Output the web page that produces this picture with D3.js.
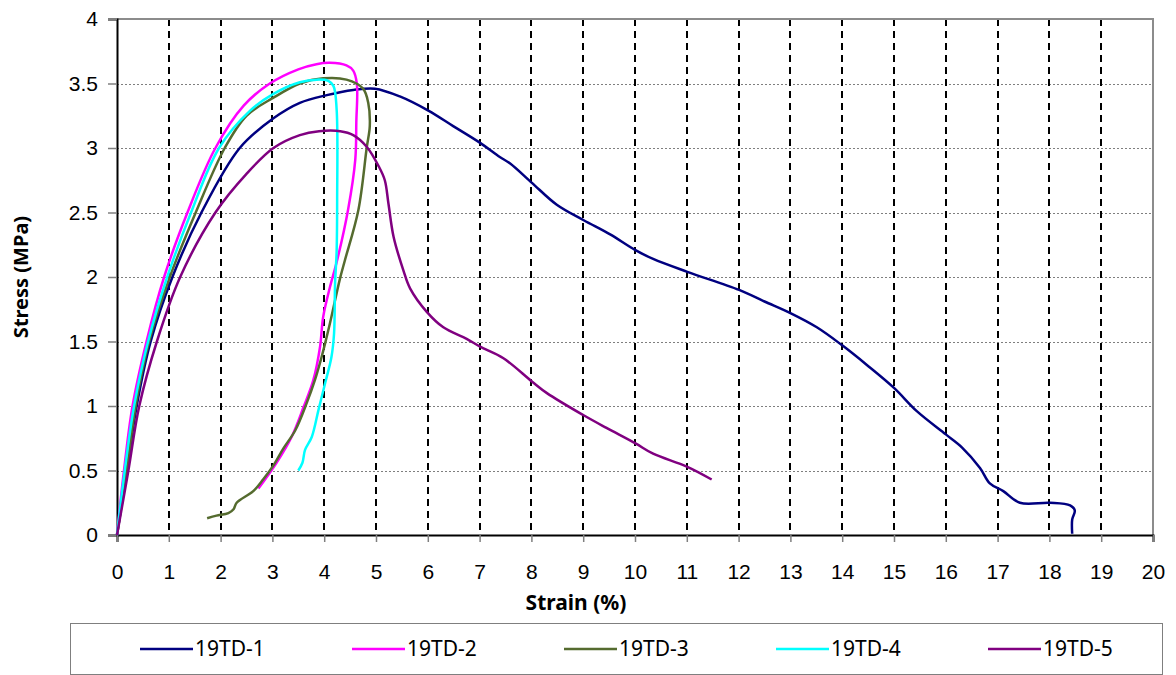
<!DOCTYPE html>
<meta charset="utf-8">
<style>
body { margin: 0; background: #fff; }
svg { font-family: "Noto Sans", "Open Sans", sans-serif; }
.line { fill: none; stroke-width: 2.5px; stroke-linejoin: round; }
</style>
<svg width="1176" height="675"></svg>
<script src="https://cdn.jsdelivr.net/npm/d3@7"></script>
<script>
// series names and colours
var names = ["19TD-1", "19TD-2", "19TD-3", "19TD-4", "19TD-5"];
var colors = ["#000080", "#ff00ff", "#556b2f", "#00ffff", "#800080"];

// [strain %, stress MPa]
var td1 = [[0,0],[0.1,0.27],[0.19,0.5],[0.38,1.0],[0.65,1.5],[1.07,2.0],[1.63,2.5],[2.37,3.0],[3.02,3.23],[3.53,3.35],[4.05,3.41],[4.56,3.45],[4.98,3.46],[5.46,3.40],[6.01,3.29],[6.49,3.17],[7.01,3.04],[7.39,2.93],[7.59,2.88],[8.01,2.73],[8.49,2.56],[9.01,2.44],[9.52,2.33],[10.0,2.21],[10.35,2.14],[11.01,2.04],[12.01,1.90],[12.5,1.81],[13.0,1.72],[13.51,1.61],[14.0,1.47],[14.47,1.32],[15.0,1.14],[15.44,0.96],[16.0,0.78],[16.31,0.68],[16.66,0.52],[16.85,0.40],[17.11,0.34],[17.43,0.25],[18.01,0.25],[18.4,0.23],[18.49,0.19],[18.44,0.12],[18.44,0.01]];
var td2 = [[0,0],[0.135,0.5],[0.30,1.0],[0.57,1.5],[0.91,2.0],[1.36,2.5],[1.90,3.0],[2.45,3.33],[2.95,3.5],[3.5,3.61],[3.85,3.65],[4.11,3.66],[4.43,3.64],[4.56,3.6],[4.63,3.5],[4.62,3.2],[4.6,2.91],[4.46,2.52],[4.25,2.13],[4.11,1.92],[3.98,1.69],[3.92,1.46],[3.79,1.2],[3.6,0.99],[3.37,0.76],[3.08,0.56],[2.73,0.36]];
var td3 = [[0,0],[0.19,0.5],[0.36,1.0],[0.62,1.5],[1.02,2.0],[1.52,2.5],[2.08,3.0],[2.5,3.25],[3.02,3.39],[3.53,3.5],[3.98,3.54],[4.43,3.53],[4.75,3.46],[4.85,3.35],[4.88,3.17],[4.82,3.0],[4.66,2.52],[4.4,2.13],[4.3,1.98],[4.11,1.64],[3.95,1.38],[3.82,1.2],[3.66,1.02],[3.44,0.81],[3.21,0.67],[3.02,0.54],[2.82,0.43],[2.63,0.34],[2.31,0.25],[2.25,0.2],[2.15,0.17],[1.92,0.15],[1.74,0.13]];
var td4 = [[0,0],[0.15,0.5],[0.33,1.0],[0.6,1.5],[0.97,2.0],[1.43,2.5],[1.97,3.0],[2.57,3.29],[3.02,3.42],[3.53,3.51],[3.86,3.53],[4.08,3.52],[4.18,3.48],[4.24,3.3],[4.25,2.6],[4.24,2.2],[4.21,1.95],[4.19,1.56],[4.14,1.38],[4.02,1.18],[3.89,0.97],[3.76,0.76],[3.63,0.66],[3.58,0.56],[3.5,0.5]];
var td5 = [[0,0],[0.22,0.5],[0.43,1.0],[0.77,1.5],[1.22,2.0],[1.9,2.5],[2.5,2.8],[3.02,3.0],[3.53,3.1],[3.9,3.13],[4.31,3.13],[4.56,3.1],[4.82,3.01],[5.05,2.86],[5.17,2.75],[5.24,2.57],[5.34,2.31],[5.53,2.05],[5.66,1.91],[5.98,1.73],[6.3,1.61],[6.75,1.52],[7.01,1.46],[7.46,1.37],[8.01,1.19],[8.3,1.10],[9.0,0.93],[9.45,0.83],[10.01,0.71],[10.35,0.63],[11.0,0.53],[11.48,0.43]];

var xTicks = d3.range(0, 21, 1);
var yTicks = [0, 0.5, 1, 1.5, 2, 2.5, 3, 3.5, 4];

var series = [td1, td2, td3, td4, td5];

var svg = d3.select("svg"),
    pLeft = 117, pRight = 1153, pTop = 19, pBottom = 535;

var x = d3.scaleLinear().domain([0, 20]).range([pLeft, pRight]),
    y = d3.scaleLinear().domain([0, 4]).range([pBottom, pTop]);

// horizontal grid (dotted grey)
svg.append("g")
  .selectAll("line")
  .data(yTicks.slice(1, -1))
  .enter().append("line")
    .attr("x1", pLeft).attr("x2", pRight)
    .attr("y1", function(d) { return Math.round(y(d)) + 0.5; })
    .attr("y2", function(d) { return Math.round(y(d)) + 0.5; })
    .attr("stroke", "#7f7f7f")
    .attr("stroke-width", 1)
    .attr("stroke-dasharray", "2,2");

// vertical grid (dashed black)
svg.append("g")
  .selectAll("line")
  .data(xTicks.slice(1, -1))
  .enter().append("line")
    .attr("x1", function(d) { return Math.round(x(d)); })
    .attr("x2", function(d) { return Math.round(x(d)); })
    .attr("y1", pTop).attr("y2", pBottom)
    .attr("stroke", "#000")
    .attr("stroke-width", 2)
    .attr("stroke-dasharray", "7,5");

// frame: top and right grey
svg.append("path")
  .attr("d", "M" + pLeft + "," + pTop + "H" + pRight + "V" + pBottom)
  .attr("fill", "none")
  .attr("stroke", "#8c8c8c")
  .attr("stroke-width", 2);

// axes
var yAxis = svg.append("g")
  .attr("transform", "translate(" + pLeft + ",0)")
  .call(d3.axisLeft(y).tickValues(yTicks).tickSize(9).tickPadding(10).tickFormat(d3.format("")));
var xAxis = svg.append("g")
  .attr("transform", "translate(0," + pBottom + ")")
  .call(d3.axisBottom(x).tickValues(xTicks).tickSize(7).tickPadding(22).tickFormat(d3.format("d")));

[yAxis, xAxis].forEach(function(a) {
  a.select(".domain").attr("stroke", "#000").attr("stroke-width", 2);
  a.selectAll(".tick line").attr("stroke", "#7f7f7f").attr("stroke-width", 1.5);
  a.selectAll(".tick text").attr("fill", "#000").style("font-size", "21px");
});

// curves
var line = d3.line()
    .curve(d3.curveCatmullRom.alpha(0.5))
    .x(function(d) { return x(d[0]); })
    .y(function(d) { return y(d[1]); });

svg.append("g")
  .selectAll("path")
  .data(series)
  .enter().append("path")
    .attr("class", "line")
    .attr("d", line)
    .style("stroke", function(d, i) { return colors[i]; });

// axis titles
svg.append("text")
  .attr("x", 576)
  .attr("y", 610)
  .attr("text-anchor", "middle")
  .style("font-size", "21px")
  .style("font-weight", "bold")
  .text("Strain (%)");

svg.append("text")
  .attr("transform", "translate(28," + ((pTop + pBottom) / 2) + ") rotate(-90)")
  .attr("text-anchor", "middle")
  .style("font-size", "20px")
  .style("font-weight", "bold")
  .text("Stress (MPa)");

// legend
svg.append("rect")
  .attr("x", 70.5).attr("y", 623.5)
  .attr("width", 1092).attr("height", 51)
  .attr("fill", "#fff")
  .attr("stroke", "#7f7f7f");

var legend = svg.append("g")
  .selectAll("g")
  .data(names)
  .enter().append("g")
    .attr("transform", function(d, i) { return "translate(" + (140 + i * 212) + ",649)"; });

legend.append("line")
  .attr("x1", 0).attr("x2", 53)
  .attr("stroke", function(d, i) { return colors[i]; })
  .attr("stroke-width", 2.5);

legend.append("text")
  .attr("x", 55)
  .attr("dy", "0.35em")
  .style("font-size", "21px")
  .text(function(d) { return d; });
</script>
